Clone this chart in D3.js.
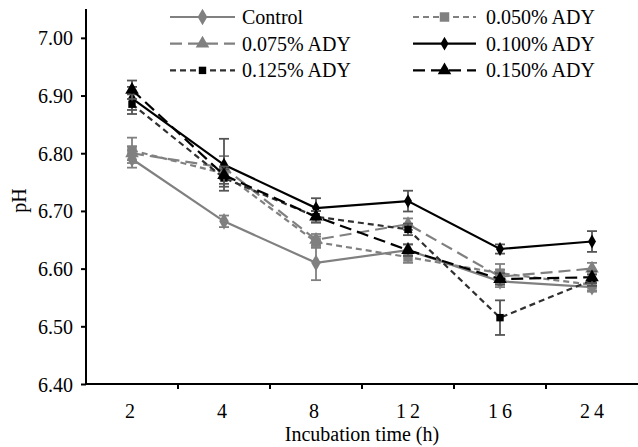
<!DOCTYPE html>
<html>
<head>
<meta charset="utf-8">
<script src="https://d3js.org/d3.v7.min.js"></script>
<style>
  body { margin: 0; background: #fff; }
  text { font-family: "Liberation Serif", "Times New Roman", serif; fill: #000; }
</style>
</head>
<body>
<div id="chart"></div>
<script>
(function(d3) {
  'use strict';

  // incubation times (x categories)
  var times = ['2', '4', '8', '12', '16', '24'];
  var yTicks = [6.40, 6.50, 6.60, 6.70, 6.80, 6.90, 7.00];

  var labels = ['Control', '0.050% ADY', '0.075% ADY', '0.100% ADY', '0.125% ADY', '0.150% ADY'];
  var control = [6.790, 6.682, 6.610, 6.632, 6.578, 6.568];
  var ady050  = [6.805, 6.765, 6.646, 6.620, 6.592, 6.572];
  var ady075  = [6.800, 6.775, 6.650, 6.677, 6.586, 6.600];
  var ady100  = [6.895, 6.780, 6.705, 6.717, 6.634, 6.647];
  var ady125  = [6.885, 6.757, 6.690, 6.668, 6.515, 6.580];
  var ady150  = [6.910, 6.762, 6.690, 6.632, 6.582, 6.585];

  // standard deviations
  var errControl = [0.015, 0.010, 0.030, 0.010, 0.010, 0.008];
  var err050     = [0.022, 0.010, 0.010, 0.010, 0.016, 0.010];
  var err075     = [0.012, 0.020, 0.010, 0.010, 0.012, 0.010];
  var err100     = [0.020, 0.045, 0.017, 0.018, 0.008, 0.018];
  var err125     = [0.017, 0.015, 0.010, 0.010, 0.030, 0.010];
  var err150     = [0.016, 0.015, 0.010, 0.010, 0.010, 0.010];

  var series = [
    { name: labels[0], values: control, err: errControl, color: '#808080', dash: null,   marker: 'diamond', size: 80 },
    { name: labels[1], values: ady050,  err: err050,     color: '#808080', dash: '6,4',  marker: 'square',  size: 90 },
    { name: labels[2], values: ady075,  err: err075,     color: '#808080', dash: '12,6', marker: 'triangle', size: 80 },
    { name: labels[3], values: ady100,  err: err100,     color: '#000000', dash: null,   marker: 'diamond', size: 55 },
    { name: labels[4], values: ady125,  err: err125,     color: '#303030', dash: '6,4',  marker: 'square',  size: 55, markerColor: '#000' },
    { name: labels[5], values: ady150,  err: err150,     color: '#000000', dash: '12,6', marker: 'triangle', size: 80 }
  ];

  var width = 638, height = 447;
  var left = 86, right = 638, top = 9, bottom = 384;

  var svg = d3.select('#chart').append('svg')
    .attr('width', width)
    .attr('height', height);

  var x = d3.scaleBand().domain(times).range([left, right]);
  var y = d3.scaleLinear().domain([6.4, 7.05]).range([bottom, top]);
  var cx = function(t) { return x(t) + x.bandwidth() / 2; };

  var symbols = {
    diamond: d3.symbolDiamond,
    square: d3.symbolSquare,
    triangle: d3.symbolTriangle
  };

  // y axis
  var yAxis = svg.append('g')
    .attr('transform', 'translate(' + left + ',0)')
    .call(d3.axisLeft(y).tickValues(yTicks).tickFormat(d3.format('.2f')).tickSize(5).tickPadding(8));
  yAxis.select('.domain').remove();
  yAxis.selectAll('line').attr('stroke', '#000').attr('stroke-width', 2);
  yAxis.selectAll('text').style('font-size', '20px').attr('dy', '0.35em');
  svg.append('line')
    .attr('x1', left).attr('x2', left).attr('y1', top).attr('y2', bottom + 1)
    .attr('stroke', '#000').attr('stroke-width', 2);

  // x axis
  svg.append('line')
    .attr('x1', left - 1).attr('x2', right).attr('y1', bottom).attr('y2', bottom)
    .attr('stroke', '#000').attr('stroke-width', 2);
  svg.selectAll('.xtick')
    .data(times.slice(1))
    .enter().append('line')
    .attr('x1', function(d) { return x(d); })
    .attr('x2', function(d) { return x(d); })
    .attr('y1', bottom).attr('y2', bottom + 5)
    .attr('stroke', '#000').attr('stroke-width', 2);
  svg.selectAll('.xlabel')
    .data(times)
    .enter().append('text')
    .attr('x', function(d) { return cx(d) + (d.length > 1 ? 2 : 0); })
    .attr('y', 418)
    .attr('text-anchor', 'middle')
    .style('font-size', '20px')
    .style('letter-spacing', '4px')
    .text(function(d) { return d; });

  svg.append('text')
    .attr('x', (left + right) / 2)
    .attr('y', 441)
    .attr('text-anchor', 'middle')
    .style('font-size', '20px')
    .text('Incubation time (h)');

  svg.append('text')
    .attr('transform', 'translate(26,' + ((top + bottom) / 2 + 4) + ') rotate(-90)')
    .attr('text-anchor', 'middle')
    .style('font-size', '20px')
    .text('pH');

  var line = d3.line()
    .x(function(d) { return cx(d.t); })
    .y(function(d) { return y(d.v); });

  series.forEach(function(s) {
    var pts = times.map(function(t, i) { return { t: t, v: s.values[i], e: s.err[i] }; });
    var g = svg.append('g');

    // error bars
    var eb = g.selectAll('.eb').data(pts).enter().append('g')
      .attr('stroke', s.color === '#808080' ? '#808080' : '#555')
      .attr('stroke-width', 1.8);
    eb.append('line')
      .attr('x1', function(d) { return cx(d.t); })
      .attr('x2', function(d) { return cx(d.t); })
      .attr('y1', function(d) { return y(d.v - d.e); })
      .attr('y2', function(d) { return y(d.v + d.e); });
    [-1, 1].forEach(function(k) {
      eb.append('line')
        .attr('x1', function(d) { return cx(d.t) - 5; })
        .attr('x2', function(d) { return cx(d.t) + 5; })
        .attr('y1', function(d) { return y(d.v + k * d.e); })
        .attr('y2', function(d) { return y(d.v + k * d.e); });
    });

    g.append('path')
      .datum(pts)
      .attr('d', line)
      .attr('fill', 'none')
      .attr('stroke', s.color)
      .attr('stroke-width', 2.2)
      .attr('stroke-dasharray', s.dash);

    g.selectAll('.m').data(pts).enter().append('path')
      .attr('transform', function(d) { return 'translate(' + cx(d.t) + ',' + y(d.v) + ')'; })
      .attr('d', d3.symbol().type(symbols[s.marker]).size(s.size))
      .attr('fill', s.markerColor || s.color);
  });

  // legend
  var legendCols = [{ x0: 170, x1: 235, tx: 242 }, { x0: 413, x1: 476, tx: 486 }];
  var legend = svg.selectAll('.legend')
    .data(series)
    .enter().append('g')
    .attr('class', 'legend')
    .attr('transform', function(d, i) {
      return 'translate(0,' + (17 + Math.floor(i / 2) * 26.7) + ')';
    });
  legend.append('line')
    .attr('x1', function(d, i) { return legendCols[i % 2].x0; })
    .attr('x2', function(d, i) { return legendCols[i % 2].x1; })
    .attr('stroke', function(d) { return d.color; })
    .attr('stroke-width', 2.2)
    .attr('stroke-dasharray', function(d) { return d.dash; });
  legend.append('path')
    .attr('transform', function(d, i) {
      return 'translate(' + (legendCols[i % 2].x0 + legendCols[i % 2].x1) / 2 + ',0)';
    })
    .attr('d', function(d) { return d3.symbol().type(symbols[d.marker]).size(d.size)(); })
    .attr('fill', function(d) { return d.markerColor || d.color; });
  legend.append('text')
    .attr('x', function(d, i) { return legendCols[i % 2].tx; })
    .attr('dy', '0.35em')
    .style('font-size', '20px')
    .text(function(d) { return d.name; });

})(window.d3);
</script>
</body>
</html>
